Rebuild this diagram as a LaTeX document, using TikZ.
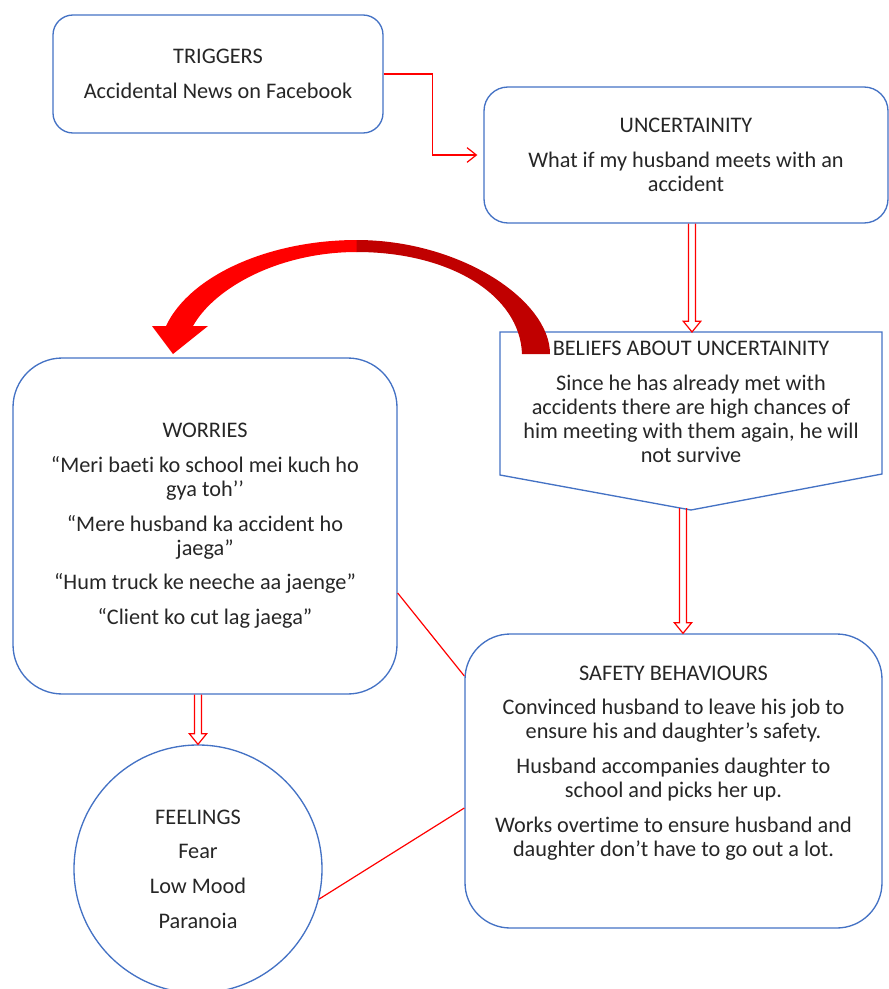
\documentclass[tikz,border=0pt]{standalone}
\usepackage{fontspec}
\setmainfont{Carlito}[Ligatures=NoCommon]
\usetikzlibrary{arrows.meta,calc}
\definecolor{boxblue}{HTML}{4472C4}
\definecolor{arrowdark}{HTML}{C00000}
\newcommand{\hollowarrow}[2]{%
  \draw[hollow] let \p1=#1, \p2=#2 in
    (\x1-2.6pt,\y1) -- (\x1-2.6pt,\y2+8pt) -- (\x1-6.5pt,\y2+8pt) -- (\x1,\y2)
    -- (\x1+6.5pt,\y2+8pt) -- (\x1+2.6pt,\y2+8pt) -- (\x1+2.6pt,\y1);}

\begin{document}
\begin{tikzpicture}[x=0.75pt, y=-0.75pt,
  every node/.style={font=\fontsize{16.7}{18}\selectfont, text=black!85, align=center},
  box/.style={draw=boxblue, line width=1pt, rounded corners=#1}, box/.default=15pt,
  hollow/.style={draw=red, line width=0.9pt, line join=miter},
  link/.style={draw=red, line width=0.9pt}]
			\useasboundingbox (0,0) rectangle (889,989);
			\node[box=15pt, minimum width=247.5pt, minimum height=88.5pt] (triggers) at (218,74)
				{TRIGGERS\\[8pt]Accidental News on Facebook};
			\node[box=18pt, minimum width=303pt, minimum height=102pt] (uncert) at (686,155)
				{UNCERTAINITY\\[8pt]What if my husband meets with an\\accident};
			\draw[draw=boxblue, line width=1pt] (500,332) -- (882,332) -- (882,474) -- (691,510) -- (500,475) -- cycle;
			\coordinate (beltop) at (692,332);
			\coordinate (belfoot) at (683,508);
			\node (beliefs) at (691,402)
				{BELIEFS ABOUT UNCERTAINITY\\[8pt]Since he has already met with\\accidents there are high chances of\\him meeting with them again, he will\\not survive};
			\node[box=37pt, minimum width=288pt, minimum height=252pt] (worries) at (205,526)
				{WORRIES\\[8pt]“Meri baeti ko school mei kuch ho\\gya toh’’\\[8pt]“Mere husband ka accident ho\\jaega”\\[8pt]“Hum truck ke neeche aa jaenge”\\[8pt]“Client ko cut lag jaega”};
			\node[box=34pt, minimum width=312.75pt, minimum height=220.5pt] (safety) at (673.5,781) {};
			\node (safetytext) at (673.5,763)
				{SAFETY BEHAVIOURS\\[8pt]Convinced husband to leave his job to\\ensure his and daughter’s safety.\\[8pt]Husband accompanies daughter to\\school and picks her up.\\[8pt]Works overtime to ensure husband and\\daughter don’t have to go out a lot.};
			\node[circle, draw=boxblue, line width=1pt, minimum size=186pt, inner sep=0pt] (feelings) at (198,869)
				{FEELINGS\\[8pt]Fear\\[8pt]Low Mood\\[8pt]Paranoia};
			\draw[link, -{Straight Barb[length=7pt, width=11pt]}, shorten >=4.5pt] (triggers.east) -- ++(49,0) |- (uncert.west);
			\hollowarrow{(uncert.south -| beltop)}{(beltop)}
			\hollowarrow{(belfoot)}{(belfoot |- safety.north)}
			\hollowarrow{(worries.south -| feelings.north)}{(feelings.north)}
			\draw[link] ($(worries.east)+(0,67)$) -- ($(safety.west)+(0,-105)$);
			\draw[link] (feelings.-14) -- ($(safety.west)+(0,27)$);
			\fill[red] (357,240) .. controls (270,240) and (190,275) .. (166,326) -- (152,326) -- (173,354) -- (208,326) -- (193,326)
				.. controls (215,287) and (280,252) .. (357,252) -- cycle;
			\fill[arrowdark] (356.5,240) .. controls (460,240) and (550,300) .. (550,354) -- (522,354)
				.. controls (520,295) and (450,252) .. (356.5,252) -- cycle;
\end{tikzpicture}
\end{document}
